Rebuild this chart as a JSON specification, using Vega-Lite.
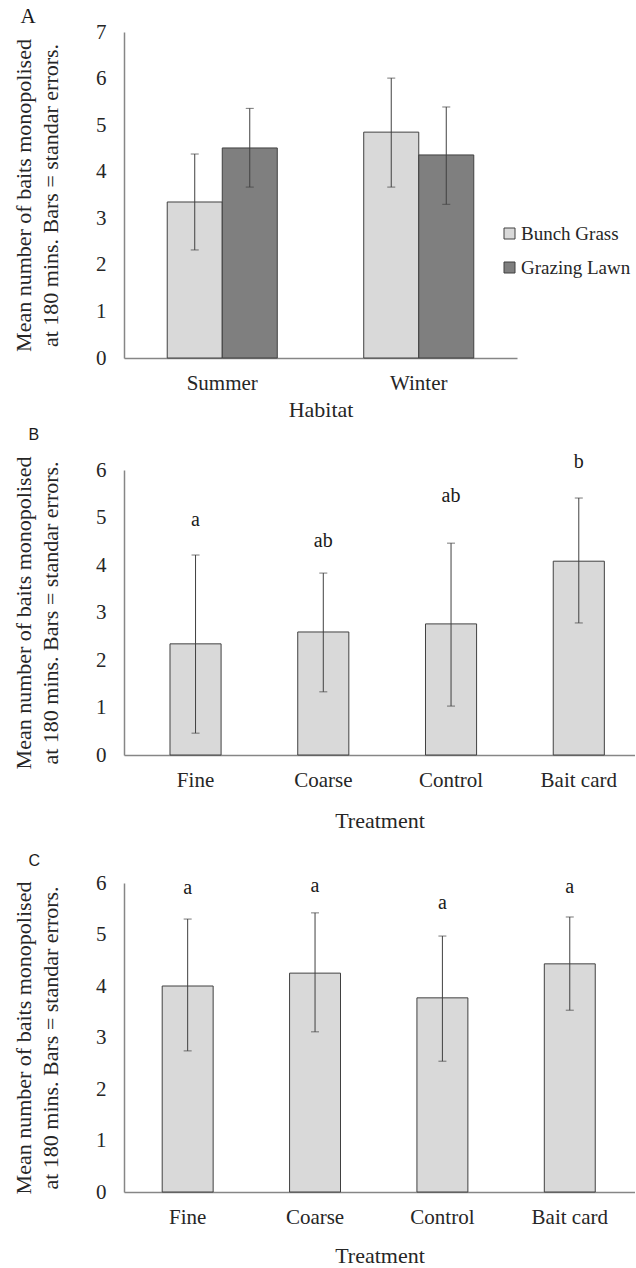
{
  "$schema": "https://vega.github.io/schema/vega-lite/v6.json",
  "background": "white",
  "padding": {"left": 12, "top": 6, "right": 0, "bottom": 0},
  "spacing": 22,
  "config": {
    "view": {"stroke": null},
    "font": "Liberation Serif",
    "axis": {"labelFont": "Liberation Serif", "titleFont": "Liberation Serif", "labelColor": "#262626", "titleColor": "#262626", "domainColor": "#868686", "domainWidth": 1.5, "ticks": false, "grid": false, "titleFontWeight": "normal"},
    "axisX": {"labelFont": "Liberation Serif", "labelFontSize": 21, "labelAngle": 0, "labelPadding": 14, "titleFontSize": 22},
    "axisY": {"labelFont": "Liberation Serif", "labelFontSize": 21, "labelPadding": 18, "titleFont": "Liberation Serif", "titleFontSize": 22, "titlePadding": 33, "labelOverlap": false},
    "title": {"font": "Liberation Serif", "fontSize": 21, "fontWeight": "normal", "color": "#1a1a1a", "anchor": "start", "frame": "bounds"},
    "style": {
      "group-title": {"font": "Liberation Serif", "fontSize": 21, "fontWeight": "normal", "fill": "#1a1a1a"},
      "sansTitle": {"font": "Liberation Sans", "fontSize": 16, "fontWeight": "normal", "fill": "#1a1a1a"}
    }
  },
  "datasets": {
    "habitat": [
      {"Habitat": "Summer", "Type": "Bunch Grass", "mean": 3.35, "lo": 2.32, "hi": 4.38},
      {"Habitat": "Summer", "Type": "Grazing Lawn", "mean": 4.51, "lo": 3.67, "hi": 5.36},
      {"Habitat": "Winter", "Type": "Bunch Grass", "mean": 4.85, "lo": 3.67, "hi": 6.01},
      {"Habitat": "Winter", "Type": "Grazing Lawn", "mean": 4.36, "lo": 3.30, "hi": 5.39}
    ],
    "treatB": [
      {"Treatment": "Fine", "mean": 2.34, "lo": 0.46, "hi": 4.21, "letter": "a", "letter_y": 4.95},
      {"Treatment": "Coarse", "mean": 2.59, "lo": 1.33, "hi": 3.83, "letter": "ab", "letter_y": 4.5},
      {"Treatment": "Control", "mean": 2.76, "lo": 1.03, "hi": 4.46, "letter": "ab", "letter_y": 5.45},
      {"Treatment": "Bait card", "mean": 4.08, "lo": 2.78, "hi": 5.41, "letter": "b", "letter_y": 6.17}
    ],
    "treatC": [
      {"Treatment": "Fine", "mean": 4.0, "lo": 2.74, "hi": 5.30, "letter": "a", "letter_y": 5.90},
      {"Treatment": "Coarse", "mean": 4.25, "lo": 3.11, "hi": 5.42, "letter": "a", "letter_y": 5.94},
      {"Treatment": "Control", "mean": 3.77, "lo": 2.54, "hi": 4.97, "letter": "a", "letter_y": 5.61},
      {"Treatment": "Bait card", "mean": 4.43, "lo": 3.53, "hi": 5.34, "letter": "a", "letter_y": 5.92}
    ]
  },
  "vconcat": [
    {
      "spacing": 6,
      "vconcat": [
        {
          "title": {"text": "A", "font": "Liberation Serif", "fontSize": 21, "offset": -6, "dx": 8},
          "width": 393,
          "height": 326,
          "data": {"name": "habitat"},
          "encoding": {
            "x": {"field": "Habitat", "type": "nominal", "sort": ["Summer", "Winter"], "scale": {"paddingInner": 0.44, "paddingOuter": 0.22}, "axis": {"title": "Habitat", "titlePadding": 6}},
            "xOffset": {"field": "Type", "type": "nominal", "sort": ["Bunch Grass", "Grazing Lawn"], "scale": {"paddingInner": 0, "paddingOuter": 0}}
          },
          "layer": [
            {
              "mark": {"type": "bar", "stroke": "#404040", "strokeWidth": 1},
              "encoding": {
                "y": {"field": "mean", "type": "quantitative", "scale": {"domain": [0, 7]}, "axis": {"title": ["Mean number of baits monopolised", "at 180 mins. Bars = standar errors."], "values": [0, 1, 2, 3, 4, 5, 6, 7], "labelOverlap": false, "labelFont": "Liberation Serif", "labelFontSize": 21, "labelPadding": 18, "titleFont": "Liberation Serif", "titleFontSize": 22, "titleLineHeight": 27, "titlePadding": 33}},
                "color": {"field": "Type", "type": "nominal", "scale": {"domain": ["Bunch Grass", "Grazing Lawn"], "range": ["#d9d9d9", "#7f7f7f"]},
                  "legend": {"title": null, "orient": "none", "legendX": 376, "legendY": 192, "padding": 0, "symbolType": "square", "symbolSize": 121, "symbolStrokeColor": "#404040", "symbolStrokeWidth": 1, "labelFont": "Liberation Serif", "labelFontSize": 19, "labelColor": "#262626", "labelOffset": 2, "rowPadding": 14}}
              }
            },
            {"mark": {"type": "rule", "color": "#404040", "strokeWidth": 1}, "encoding": {"y": {"field": "lo", "type": "quantitative", "axis": {"title": ["Mean number of baits monopolised", "at 180 mins. Bars = standar errors."], "values": [0, 1, 2, 3, 4, 5, 6, 7], "labelOverlap": false, "labelFont": "Liberation Serif", "labelFontSize": 21, "labelPadding": 18, "titleFont": "Liberation Serif", "titleFontSize": 22, "titleLineHeight": 27, "titlePadding": 33}}, "y2": {"field": "hi"}}},
            {"mark": {"type": "tick", "color": "#404040", "size": 8, "thickness": 1}, "encoding": {"y": {"field": "hi", "type": "quantitative", "axis": {"title": ["Mean number of baits monopolised", "at 180 mins. Bars = standar errors."], "values": [0, 1, 2, 3, 4, 5, 6, 7], "labelOverlap": false, "labelFont": "Liberation Serif", "labelFontSize": 21, "labelPadding": 18, "titleFont": "Liberation Serif", "titleFontSize": 22, "titleLineHeight": 27, "titlePadding": 33}}}},
            {"mark": {"type": "tick", "color": "#404040", "size": 8, "thickness": 1}, "encoding": {"y": {"field": "lo", "type": "quantitative", "axis": {"title": ["Mean number of baits monopolised", "at 180 mins. Bars = standar errors."], "values": [0, 1, 2, 3, 4, 5, 6, 7], "labelOverlap": false, "labelFont": "Liberation Serif", "labelFontSize": 21, "labelPadding": 18, "titleFont": "Liberation Serif", "titleFontSize": 22, "titleLineHeight": 27, "titlePadding": 33}}}}
          ]
        },
        {
          "title": {"text": "B", "style": ["group-title", "sansTitle"], "font": "Liberation Sans", "fontSize": 16, "offset": 9, "dx": 16},
          "width": 511,
          "height": 285,
          "data": {"name": "treatB"},
          "encoding": {
            "x": {"field": "Treatment", "type": "nominal", "sort": ["Fine", "Coarse", "Control", "Bait card"], "scale": {"paddingInner": 0.6, "paddingOuter": 0.3, "align": 0.6}, "axis": {"title": "Treatment", "titlePadding": 20}}
          },
          "layer": [
            {"mark": {"type": "bar", "fill": "#d9d9d9", "stroke": "#404040", "strokeWidth": 1},
             "encoding": {"y": {"field": "mean", "type": "quantitative", "scale": {"domain": [0, 6]}, "axis": {"title": ["Mean number of baits monopolised", "at 180 mins. Bars = standar errors."], "values": [0, 1, 2, 3, 4, 5, 6], "labelOverlap": false, "labelFont": "Liberation Serif", "labelFontSize": 21, "labelPadding": 18, "titleFont": "Liberation Serif", "titleFontSize": 22, "titleLineHeight": 27, "titlePadding": 33}}}},
            {"mark": {"type": "rule", "color": "#404040", "strokeWidth": 1}, "encoding": {"y": {"field": "lo", "type": "quantitative", "axis": {"title": ["Mean number of baits monopolised", "at 180 mins. Bars = standar errors."], "values": [0, 1, 2, 3, 4, 5, 6], "labelOverlap": false, "labelFont": "Liberation Serif", "labelFontSize": 21, "labelPadding": 18, "titleFont": "Liberation Serif", "titleFontSize": 22, "titleLineHeight": 27, "titlePadding": 33}}, "y2": {"field": "hi"}}},
            {"mark": {"type": "tick", "color": "#404040", "size": 8, "thickness": 1}, "encoding": {"y": {"field": "hi", "type": "quantitative", "axis": {"title": ["Mean number of baits monopolised", "at 180 mins. Bars = standar errors."], "values": [0, 1, 2, 3, 4, 5, 6], "labelOverlap": false, "labelFont": "Liberation Serif", "labelFontSize": 21, "labelPadding": 18, "titleFont": "Liberation Serif", "titleFontSize": 22, "titleLineHeight": 27, "titlePadding": 33}}}},
            {"mark": {"type": "tick", "color": "#404040", "size": 8, "thickness": 1}, "encoding": {"y": {"field": "lo", "type": "quantitative", "axis": {"title": ["Mean number of baits monopolised", "at 180 mins. Bars = standar errors."], "values": [0, 1, 2, 3, 4, 5, 6], "labelOverlap": false, "labelFont": "Liberation Serif", "labelFontSize": 21, "labelPadding": 18, "titleFont": "Liberation Serif", "titleFontSize": 22, "titleLineHeight": 27, "titlePadding": 33}}}},
            {"mark": {"type": "text", "font": "Liberation Serif", "fontSize": 20, "color": "#1a1a1a", "baseline": "middle"}, "encoding": {"y": {"field": "letter_y", "type": "quantitative", "axis": {"title": ["Mean number of baits monopolised", "at 180 mins. Bars = standar errors."], "values": [0, 1, 2, 3, 4, 5, 6], "labelOverlap": false, "labelFont": "Liberation Serif", "labelFontSize": 21, "labelPadding": 18, "titleFont": "Liberation Serif", "titleFontSize": 22, "titleLineHeight": 27, "titlePadding": 33}}, "text": {"field": "letter"}}}
          ]
        }
      ]
    },
    {
      "title": {"text": "C", "style": ["group-title", "sansTitle"], "font": "Liberation Sans", "fontSize": 16, "offset": 3, "dx": 16},
      "width": 511,
      "height": 309,
      "data": {"name": "treatC"},
      "encoding": {
        "x": {"field": "Treatment", "type": "nominal", "sort": ["Fine", "Coarse", "Control", "Bait card"], "scale": {"paddingInner": 0.6, "paddingOuter": 0.306, "align": 0.49}, "axis": {"title": "Treatment", "titlePadding": 18}}
      },
      "layer": [
        {"mark": {"type": "bar", "fill": "#d9d9d9", "stroke": "#404040", "strokeWidth": 1},
         "encoding": {"y": {"field": "mean", "type": "quantitative", "scale": {"domain": [0, 6]}, "axis": {"title": ["Mean number of baits monopolised", "at 180 mins. Bars = standar errors."], "values": [0, 1, 2, 3, 4, 5, 6], "labelOverlap": false, "labelFont": "Liberation Serif", "labelFontSize": 21, "labelPadding": 18, "titleFont": "Liberation Serif", "titleFontSize": 22, "titleLineHeight": 27, "titlePadding": 33}}}},
        {"mark": {"type": "rule", "color": "#404040", "strokeWidth": 1}, "encoding": {"y": {"field": "lo", "type": "quantitative", "axis": {"title": ["Mean number of baits monopolised", "at 180 mins. Bars = standar errors."], "values": [0, 1, 2, 3, 4, 5, 6], "labelOverlap": false, "labelFont": "Liberation Serif", "labelFontSize": 21, "labelPadding": 18, "titleFont": "Liberation Serif", "titleFontSize": 22, "titleLineHeight": 27, "titlePadding": 33}}, "y2": {"field": "hi"}}},
        {"mark": {"type": "tick", "color": "#404040", "size": 8, "thickness": 1}, "encoding": {"y": {"field": "hi", "type": "quantitative", "axis": {"title": ["Mean number of baits monopolised", "at 180 mins. Bars = standar errors."], "values": [0, 1, 2, 3, 4, 5, 6], "labelOverlap": false, "labelFont": "Liberation Serif", "labelFontSize": 21, "labelPadding": 18, "titleFont": "Liberation Serif", "titleFontSize": 22, "titleLineHeight": 27, "titlePadding": 33}}}},
        {"mark": {"type": "tick", "color": "#404040", "size": 8, "thickness": 1}, "encoding": {"y": {"field": "lo", "type": "quantitative", "axis": {"title": ["Mean number of baits monopolised", "at 180 mins. Bars = standar errors."], "values": [0, 1, 2, 3, 4, 5, 6], "labelOverlap": false, "labelFont": "Liberation Serif", "labelFontSize": 21, "labelPadding": 18, "titleFont": "Liberation Serif", "titleFontSize": 22, "titleLineHeight": 27, "titlePadding": 33}}}},
        {"mark": {"type": "text", "font": "Liberation Serif", "fontSize": 20, "color": "#1a1a1a", "baseline": "middle"}, "encoding": {"y": {"field": "letter_y", "type": "quantitative", "axis": {"title": ["Mean number of baits monopolised", "at 180 mins. Bars = standar errors."], "values": [0, 1, 2, 3, 4, 5, 6], "labelOverlap": false, "labelFont": "Liberation Serif", "labelFontSize": 21, "labelPadding": 18, "titleFont": "Liberation Serif", "titleFontSize": 22, "titleLineHeight": 27, "titlePadding": 33}}, "text": {"field": "letter"}}}
      ]
    }
  ]
}
